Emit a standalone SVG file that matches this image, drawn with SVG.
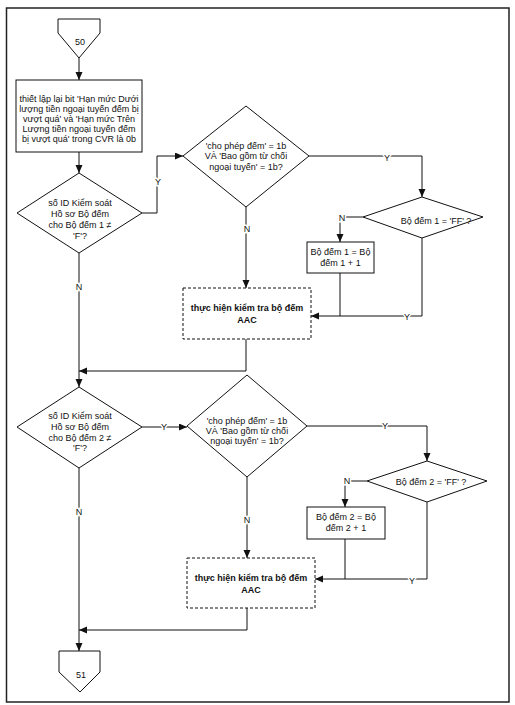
<svg xmlns="http://www.w3.org/2000/svg" width="515" height="705" viewBox="0 0 515 705">
<defs>
<style>
.s{fill:#fff;stroke:#111;stroke-width:1}
.d{fill:#fff;stroke:#111;stroke-width:1;stroke-dasharray:3,2}
.c{fill:none;stroke:#111;stroke-width:1}
.t{font-family:"Liberation Sans",Arial,sans-serif;font-size:9px;fill:#111;text-anchor:middle}
.b{font-weight:bold}
.l{font-family:"Liberation Sans",Arial,sans-serif;font-size:9px;fill:#111;text-anchor:middle;stroke:#fff;stroke-width:3;paint-order:stroke}
</style>
<marker id="a" markerUnits="userSpaceOnUse" markerWidth="9" markerHeight="8" refX="8" refY="3.5" orient="auto">
<path d="M0,0 L8,3.5 L0,7 z" fill="#111"/>
</marker>
</defs>
<rect x="0" y="0" width="515" height="705" fill="#fff"/>
<rect x="6.5" y="8" width="502.5" height="694" fill="none" stroke="#222" stroke-width="1.5"/>

<g id="connectors">
<path class="c" d="M79,58 V80" marker-end="url(#a)"/>
<path class="c" d="M79,152 V173" marker-end="url(#a)"/>
<path class="c" d="M142,213 H157 V156 H183" marker-end="url(#a)"/>
<path class="c" d="M309,156 H422 V197" marker-end="url(#a)"/>
<path class="c" d="M363,217 H340 V242" marker-end="url(#a)"/>
<path class="c" d="M340,273 V316"/>
<path class="c" d="M422,238 V316 H311" marker-end="url(#a)"/>
<path class="c" d="M246,207 V288" marker-end="url(#a)"/>
<path class="c" d="M246,339 V371 H79" marker-end="url(#a)"/>
<path class="c" d="M79,253 V387" marker-end="url(#a)"/>
<path class="c" d="M142,427 H187" marker-end="url(#a)"/>
<path class="c" d="M307,426 H427 V461" marker-end="url(#a)"/>
<path class="c" d="M367,481 H345 V507" marker-end="url(#a)"/>
<path class="c" d="M345,539 V579"/>
<path class="c" d="M427,502 V579 H315" marker-end="url(#a)"/>
<path class="c" d="M247,477 V558" marker-end="url(#a)"/>
<path class="c" d="M247,608 V630 H79" marker-end="url(#a)"/>
<path class="c" d="M79,468 V651" marker-end="url(#a)"/>
<text class="l" x="158" y="185">Y</text>
<text class="l" x="387" y="161">Y</text>
<text class="l" x="342" y="221">N</text>
<text class="l" x="407" y="320">Y</text>
<text class="l" x="247" y="232">N</text>
<text class="l" x="79" y="290">N</text>
<text class="l" x="164" y="430">Y</text>
<text class="l" x="385" y="429">Y</text>
<text class="l" x="347" y="484">N</text>
<text class="l" x="412" y="584">Y</text>
<text class="l" x="247" y="523">N</text>
<text class="l" x="79" y="515">N</text>
</g>

<g id="n50">
<polygon class="s" points="58,19 100,19 100,33 79,58 58,33"/>
<text class="t" x="80" y="45">50</text>
</g>

<g id="reset">
<rect class="s" x="16" y="80" width="126" height="72"/>
<text class="t" x="79" y="102">thiết lập lại bit 'Hạn mức Dưới</text>
<text class="t" x="79" y="112">lượng tiền ngoại tuyến đếm bị</text>
<text class="t" x="79" y="122">vượt quá' và 'Hạn mức Trên</text>
<text class="t" x="79" y="132">Lượng tiền ngoại tuyến đếm</text>
<text class="t" x="79" y="142">bị vượt quá' trong CVR là 0b</text>
</g>

<g id="dec1">
<polygon class="s" points="79,173 142,213 79,253 17,213"/>
<text class="t" x="80" y="206">số ID Kiểm soát</text>
<text class="t" x="80" y="217">Hồ sơ Bộ đếm</text>
<text class="t" x="80" y="228">cho Bộ đếm 1 ≠</text>
<text class="t" x="80" y="239">'F'?</text>
</g>

<g id="dec2">
<polygon class="s" points="246,106 309,156 246,207 183,156"/>
<text class="t" x="246" y="149">'cho phép đếm' = 1b</text>
<text class="t" x="246" y="159">VÀ 'Bao gồm từ chối</text>
<text class="t" x="246" y="170">ngoại tuyến' = 1b?</text>
</g>

<g id="dec3">
<polygon class="s" points="422,197 483,217 422,238 363,217"/>
<text class="t" x="436" y="224">Bộ đếm 1 = 'FF' ?</text>
</g>

<g id="inc1">
<rect class="s" x="307" y="242" width="67" height="31"/>
<text class="t" x="340.5" y="255">Bộ đếm 1 = Bộ</text>
<text class="t" x="340.5" y="266">đếm 1 + 1</text>
</g>

<g id="aac1">
<rect class="d" x="183" y="288" width="128" height="51"/>
<text class="t b" x="247" y="311">thực hiện kiểm tra bộ đếm</text>
<text class="t b" x="247" y="323">AAC</text>
</g>

<g id="dec4">
<polygon class="s" points="79,387 142,427 79,468 17,427"/>
<text class="t" x="80" y="419">số ID Kiểm soát</text>
<text class="t" x="80" y="430">Hồ sơ Bộ đếm</text>
<text class="t" x="80" y="441">cho Bộ đếm 2 ≠</text>
<text class="t" x="80" y="451">'F'?</text>
</g>

<g id="dec5">
<polygon class="s" points="247,375 307,426 247,477 187,426"/>
<text class="t" x="247" y="424">'cho phép đếm' = 1b</text>
<text class="t" x="247" y="434">VÀ 'Bao gồm từ chối</text>
<text class="t" x="247" y="444">ngoại tuyến' = 1b?</text>
</g>

<g id="dec6">
<polygon class="s" points="427,461 487,481 427,502 367,481"/>
<text class="t" x="431" y="485">Bộ đếm 2 = 'FF' ?</text>
</g>

<g id="inc2">
<rect class="s" x="307" y="507" width="78" height="32"/>
<text class="t" x="346" y="520">Bộ đếm 2 = Bộ</text>
<text class="t" x="346" y="531">đếm 2 + 1</text>
</g>

<g id="aac2">
<rect class="d" x="187" y="558" width="128" height="50"/>
<text class="t b" x="251" y="581">thực hiện kiểm tra bộ đếm</text>
<text class="t b" x="251" y="593">AAC</text>
</g>

<g id="n51">
<polygon class="s" points="59,651 100,651 100,672 80,692 59,672"/>
<text class="t" x="81" y="678">51</text>
</g>
</svg>
